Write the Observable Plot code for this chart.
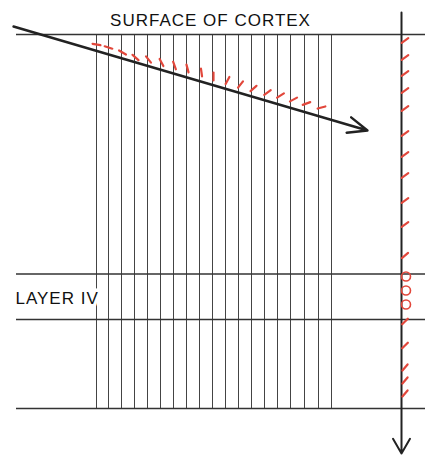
<!DOCTYPE html>
<html><head><meta charset="utf-8">
<script src="https://cdn.jsdelivr.net/npm/d3@7"></script>
<script src="https://cdn.jsdelivr.net/npm/@observablehq/plot@0.6"></script>
<style>
body{margin:0;background:#fff}
#chart svg text{letter-spacing:1px}
</style>
</head><body><div id="chart"></div>
<script>
// Frame (schematic units)
const W = 431, H = 461;
// Column boundaries across the cortex
const columnX = [96,108,121,134,147,160,173,186,199,212,225,238,251,264,277,290,304,318,331];
const columnTop = 34, columnBottom = 408;
// Horizontal layer boundaries: surface, layer IV top, layer IV bottom, white matter
const boundaryY = [34, 273.5, 319, 408];
const boundaryLeft = 16, boundaryRight = 425;
// Oblique electrode track
const obliqueTrack = [{x1: 13, y1: 26, x2: 367, y2: 130}];
// Orientation recorded along the oblique track
const obliqueX = [96,108,122,135,148,161,174,187,201,213,227,240,253,267,280,293,306,321];
const obliqueY = [44,47,52,57,59,62,65,68,72,76,80,84,88,92,95,99,103,107];
const obliqueAngle = [10,18,30,42,52,62,70,75,82,90,118,128,138,144,148,152,160,165];
// Perpendicular electrode track
const verticalTrack = [{x1: 401, y1: 12, x2: 401, y2: 453}];
const verticalTickY = [40,57,73,90,108,133,154,175,200,224,255,321,345,367,380,393];
const verticalTickAngle = [-35,-35,-35,-35,-35,-35,-35,-35,-35,-35,-40,-45,-45,-50,-50,-50];
const verticalTickX = 404.5;
// Unoriented cells in layer IV
const circleY = [276, 290, 304];
const circleX = 405.5;
// Labels
const labelText = ["SURFACE OF CORTEX", "LAYER IV"];
const labelX = [210, 15];
const labelY = [25, 303];
const labelAnchor = ["middle", "start"];

const RED = "#e2473b";
const tickLen = 8;
function seg(x, y, a, len) {
  const r = a * Math.PI / 180;
  return {x1: x - len/2*Math.cos(r), y1: y - len/2*Math.sin(r), x2: x + len/2*Math.cos(r), y2: y + len/2*Math.sin(r)};
}
const obliqueTicks = obliqueX.map((x, i) => seg(x, obliqueY[i], obliqueAngle[i], tickLen));
const verticalTicks = verticalTickY.map((y, i) => seg(verticalTickX, y, verticalTickAngle[i], tickLen));
const labels = labelText.map((t, i) => ({t, x: labelX[i], y: labelY[i], a: labelAnchor[i]}));

const chart = Plot.plot({
  width: W, height: H, margin: 0,
  x: {domain: [0, W], range: [0, W], axis: null},
  y: {domain: [0, H], range: [0, H], axis: null},
  style: {background: "#fff", fontFamily: "'Liberation Sans', Arial, Helvetica, sans-serif", color: "#111"},
  marks: [
    Plot.ruleX(columnX, {x: d => d, y1: columnTop, y2: columnBottom, stroke: "#444", strokeWidth: 1}),
    Plot.ruleY(boundaryY, {y: d => d, x1: boundaryLeft, x2: boundaryRight, stroke: "#333", strokeWidth: 1.3}),
    Plot.text(labels.filter(d => d.a === "start"), {x: "x", y: "y", text: "t", textAnchor: "start", lineAnchor: "bottom", fontSize: 17, fill: "#111", stroke: "#fff", strokeWidth: 7}),
    Plot.text(labels.filter(d => d.a === "middle"), {x: "x", y: "y", text: "t", textAnchor: "middle", lineAnchor: "bottom", fontSize: 17, fill: "#111"}),
    Plot.link(obliqueTicks, {x1: "x1", y1: "y1", x2: "x2", y2: "y2", stroke: RED, strokeWidth: 2.2, strokeLinecap: "round"}),
    Plot.arrow(obliqueTrack, {x1: "x1", y1: "y1", x2: "x2", y2: "y2", stroke: "#222", strokeWidth: 2.4, headAngle: 45, headLength: 21 * 1.5 / 2.4}),
    Plot.arrow(verticalTrack, {x1: "x1", y1: "y1", x2: "x2", y2: "y2", stroke: "#222", strokeWidth: 2, headAngle: 60, headLength: 17 * 1.5 / 2}),
    Plot.link(verticalTicks, {x1: "x1", y1: "y1", x2: "x2", y2: "y2", stroke: RED, strokeWidth: 2.2, strokeLinecap: "round"}),
    Plot.dot(circleY, {x: circleX, y: d => d, r: 4.5, stroke: RED, strokeWidth: 1.6, fill: "none"})
  ]
});
document.getElementById("chart").append(chart);
</script>
</body></html>
